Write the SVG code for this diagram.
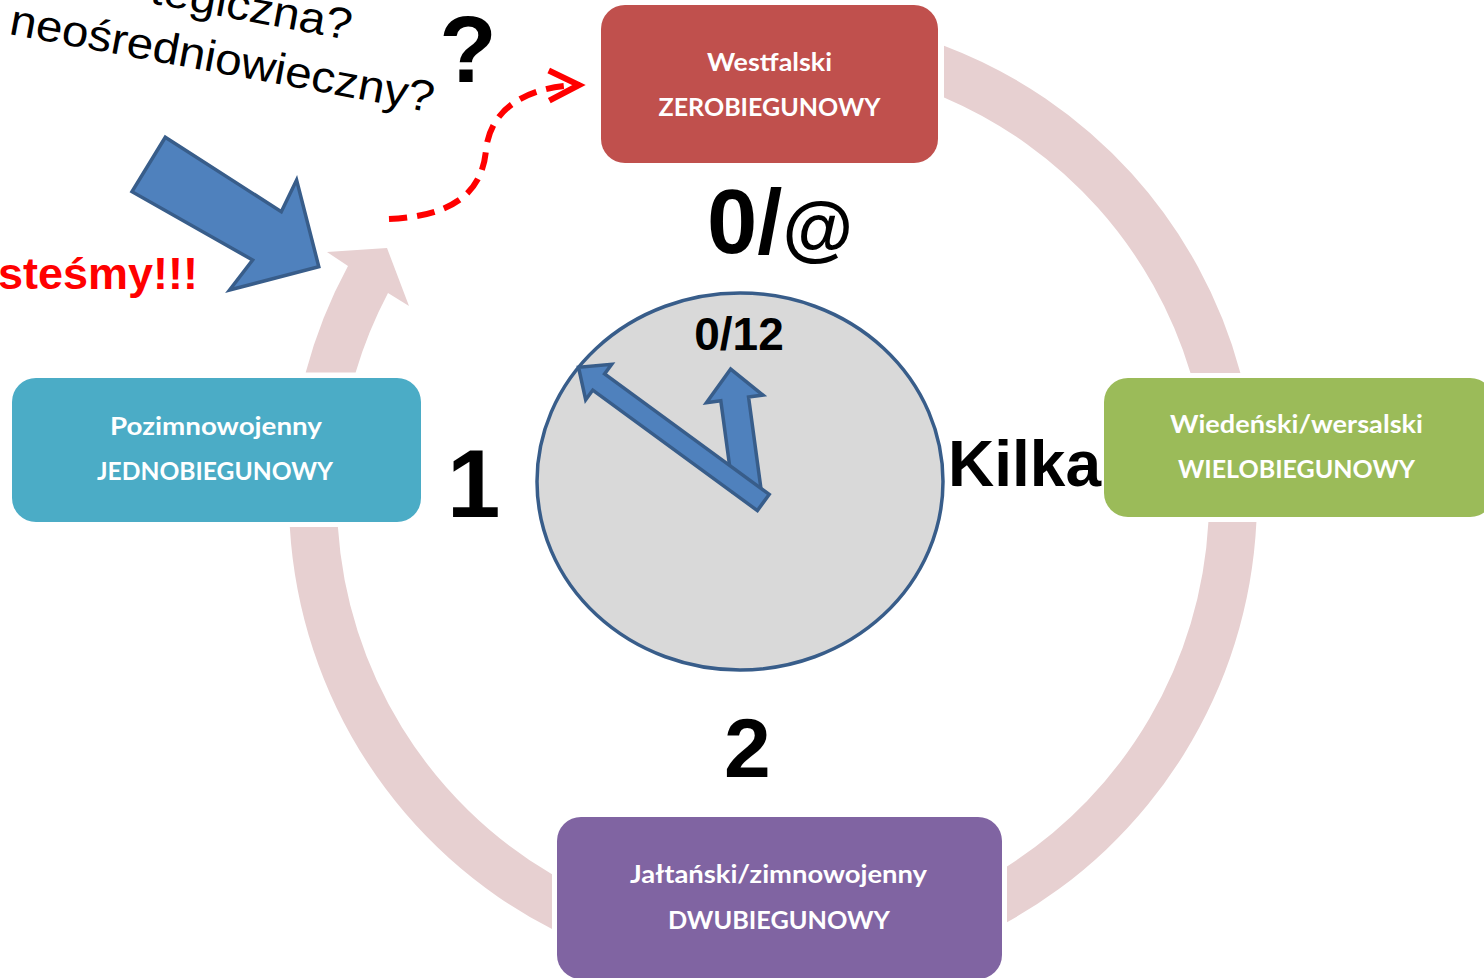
<svg xmlns="http://www.w3.org/2000/svg" width="1484" height="978" viewBox="0 0 1484 978">
<style>
.ring{fill:#E7D0D1;stroke:none}
.box{stroke:none}
.bt{font-family:Lato,"Open Sans","Noto Sans",sans-serif;font-weight:bold;font-size:25px;fill:#FFFFFF;text-anchor:middle}
.num{font-family:"Liberation Sans",Arial,sans-serif;font-weight:bold;fill:#000000}
.hand{fill:#4F81BD;stroke:#385D8A;stroke-width:3.5;stroke-linejoin:miter}
.q{font-family:"Liberation Sans",Arial,sans-serif;font-size:44px;fill:#000000}
</style>
<defs>
<marker id="chev" markerUnits="userSpaceOnUse" markerWidth="44" markerHeight="44" viewBox="0 0 44 44" refX="37" refY="22" orient="auto">
<path d="M6,7 L36,22 L6,37" fill="none" stroke="#FF0000" stroke-width="6"/>
</marker>
</defs>
<rect x="0" y="0" width="1484" height="978" fill="#FFFFFF"/>

<g id="connectors">
<path class="ring" d="M 944 45.7 A 484 484 0 0 1 1240.4 373 L 1190.5 373 A 436 436 0 0 0 944 97.4 Z"/>
<path class="ring" d="M 1256.4 522 A 484 484 0 0 1 1007 922.2 L 1007 866.4 A 436 436 0 0 0 1208.4 522 Z"/>
<path class="ring" d="M 552 929.1 A 484 484 0 0 1 289.8 527 L 337.9 527 A 436 436 0 0 0 552 874.3 Z"/>
<path class="ring" d="M 305.7 372.5 A 484 484 0 0 1 348 266 L 327 252 L 387 248 L 409 306 L 388 293 A 436 436 0 0 0 355.6 372.5 Z"/>
<path id="dashed-arrow" d="M 389 219 C 450 216, 482 195, 486 150 C 490 110, 525 86, 580 85" fill="none" stroke="#FF0000" stroke-width="6" stroke-dasharray="18 10" marker-end="url(#chev)"/>
</g>

<g id="node-westfalski">
<rect class="box" x="601" y="5" width="337" height="158" rx="24" fill="#C0504D"/>
<text class="bt" x="769.5" y="71" textLength="125" lengthAdjust="spacingAndGlyphs">Westfalski</text>
<text class="bt" x="769.5" y="116" textLength="222" lengthAdjust="spacingAndGlyphs">ZEROBIEGUNOWY</text>
</g>

<g id="node-wiedenski">
<rect class="box" x="1104" y="378" width="390" height="139" rx="24" fill="#9BBB59"/>
<text class="bt" x="1296.5" y="433" textLength="253" lengthAdjust="spacingAndGlyphs">Wiedeński/wersalski</text>
<text class="bt" x="1296.5" y="478" textLength="237" lengthAdjust="spacingAndGlyphs">WIELOBIEGUNOWY</text>
</g>

<g id="node-jaltanski">
<rect class="box" x="557" y="817" width="445" height="162" rx="24" fill="#8064A2"/>
<text class="bt" x="778.5" y="883" textLength="297" lengthAdjust="spacingAndGlyphs">Jałtański/zimnowojenny</text>
<text class="bt" x="779" y="929" textLength="222" lengthAdjust="spacingAndGlyphs">DWUBIEGUNOWY</text>
</g>

<g id="node-pozimnowojenny">
<rect class="box" x="12" y="378" width="409" height="144" rx="24" fill="#4BACC6"/>
<text class="bt" x="216" y="435" textLength="212" lengthAdjust="spacingAndGlyphs">Pozimnowojenny</text>
<text class="bt" x="215" y="480" textLength="236" lengthAdjust="spacingAndGlyphs">JEDNOBIEGUNOWY</text>
</g>

<g id="clock">
<ellipse cx="740" cy="481.5" rx="203" ry="188.5" fill="#D9D9D9" stroke="#385D8A" stroke-width="3.5"/>
<text class="num" x="739" y="350" font-size="46" text-anchor="middle">0/12</text>
<polygon class="hand" transform="translate(747,490) rotate(262.3)" points="0,-14 92,-14 92,-28.5 122,0 92,28.5 92,14 0,14"/>
<polygon class="hand" transform="translate(763.3,502.5) rotate(216.2)" points="0,-10 204,-10 204,-22 229,0 204,22 204,10 0,10"/>
</g>

<g id="labels">
<text class="num" x="707" y="253" font-size="90" textLength="146" lengthAdjust="spacingAndGlyphs">0/<tspan font-size="72">@</tspan></text>
<text class="num" x="447" y="517" font-size="96">1</text>
<text class="num" x="724" y="777" font-size="84">2</text>
<text class="num" x="948" y="486" font-size="64">Kilka</text>
<text class="num" x="468" y="82" font-size="94" text-anchor="middle">?</text>
<text class="num" x="-2" y="289" font-size="45" fill="#FF0000" style="fill:#FF0000">steśmy!!!</text>
<text class="q" transform="translate(8,34) rotate(10.5) scale(1.08,1)" x="0" y="0">neośredniowieczny?</text>
<text class="q" transform="translate(349,40) rotate(10.5) scale(1.08,1)" x="0" y="0" text-anchor="end">tegiczna?</text>
</g>

<g id="big-arrow">
<polygon points="165.3,137.3 281.3,211.7 296.6,180 318.8,266.7 229.6,290 252.6,260 132,191.7" fill="#4F81BD" stroke="#385D8A" stroke-width="3.5" stroke-linejoin="miter"/>
</g>
</svg>
